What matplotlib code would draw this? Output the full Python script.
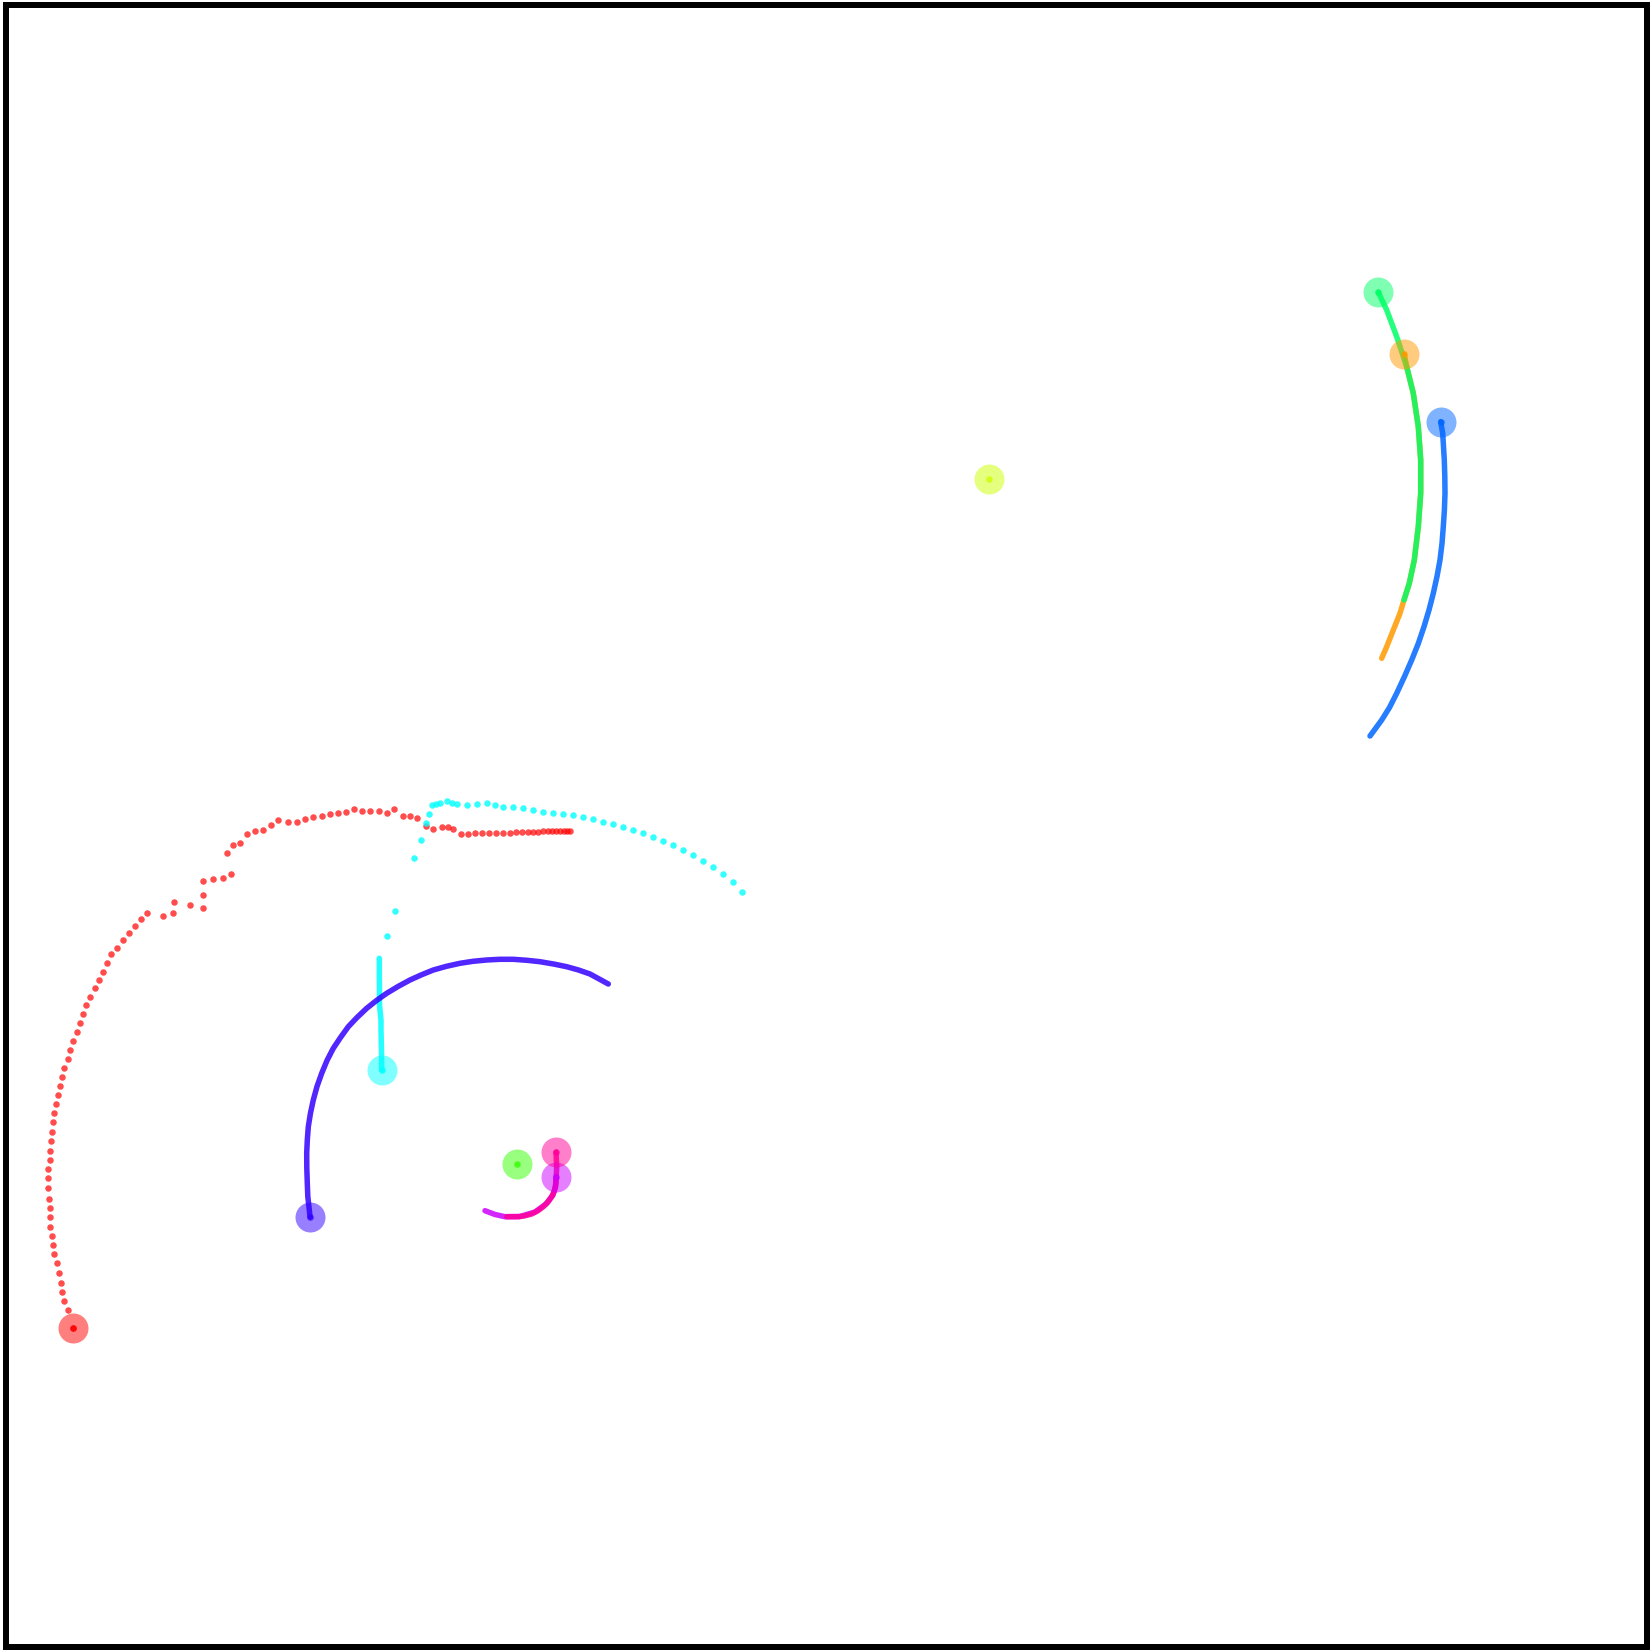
import numpy as np
import matplotlib
matplotlib.use("Agg")
import matplotlib.pyplot as plt
from matplotlib.colors import hsv_to_rgb

# Track positions (image pixel coordinates, y grows downward)
red_x = [72.7, 67.7, 64.3, 62.3, 60.7, 58.7, 56.7, 54.3, 53.3, 52.0, 50.3, 50.0, 50.0, 49.3,
         48.3, 48.3, 48.3, 50.0, 50.0, 50.7, 51.7, 53.3, 54.3, 56.3, 58.3, 60.0, 62.0, 64.3,
         67.7, 70.0, 73.3, 76.7, 80.0, 82.7, 86.0, 90.0, 95.0, 99.0, 103.3, 107.3, 110.7,
         117.3, 123.3, 129.0, 135.0, 140.7, 147.3, 163.3, 172.7, 174.3, 190.0, 203.3, 203.3,
         203.3, 212.7, 222.7, 230.7, 226.7, 232.7, 240.0, 246.7, 254.7, 262.7, 270.7, 278.0,
         288.3, 296.7, 305.0, 313.3, 321.7, 330.0, 338.3, 346.0, 354.0, 362.0, 370.0, 378.7,
         386.7, 394.0, 402.7, 410.0, 417.3, 425.5, 433.3, 441.7, 448.3, 453.3, 461.0, 468.0,
         475.0, 482.0, 489.0, 496.0, 503.0, 510.0, 516.0, 522.0, 528.0, 533.0, 538.0, 543.0,
         548.0, 552.0, 556.0, 560.0, 564.0, 567.0, 570.0]
red_y = [1328.0, 1310.0, 1300.7, 1291.7, 1282.7, 1273.3, 1263.3, 1254.0, 1244.7, 1235.7,
         1226.7, 1217.3, 1208.3, 1198.7, 1188.3, 1178.3, 1169.0, 1160.0, 1150.7, 1141.0,
         1131.7, 1122.3, 1113.3, 1104.0, 1095.0, 1086.0, 1076.7, 1067.7, 1058.7, 1049.7,
         1040.7, 1032.0, 1023.3, 1014.3, 1005.0, 997.0, 988.3, 980.0, 971.7, 963.3, 954.3,
         947.7, 940.0, 933.3, 926.0, 918.7, 912.7, 916.0, 912.7, 902.0, 905.3, 908.3, 894.5,
         880.7, 879.0, 877.8, 874.3, 853.3, 845.0, 842.7, 834.0, 831.3, 830.0, 825.3, 820.0,
         822.3, 822.3, 819.0, 817.3, 815.7, 814.0, 813.3, 811.7, 809.3, 810.7, 810.7, 811.3,
         812.7, 809.3, 815.5, 815.5, 818.3, 825.5, 828.8, 826.7, 826.7, 829.3, 834.0, 833.5,
         833.0, 833.0, 833.0, 833.0, 832.5, 832.5, 832.0, 832.0, 832.0, 831.5, 831.5, 831.0,
         831.0, 830.5, 830.5, 830.5, 830.5, 830.5, 831.0]

cyan_line_x = [381.7, 381.5, 381.0, 381.0, 379.5, 379.5, 379.3, 379.3]
cyan_line_y = [1070.0, 1050.0, 1030.0, 1020.0, 1005.0, 990.0, 975.0, 958.3]
cyan_dot_x = [387.3, 395.0, 414.3, 420.8, 426.2, 428.8, 431.7, 436.0, 440.0, 446.7, 451.5,
              456.7, 466.7, 476.7, 486.7, 495.0, 503.3, 513.3, 523.3, 533.3, 543.3, 553.3,
              563.3, 573.3, 583.3, 593.3, 603.3, 613.3, 623.3, 633.3, 643.3, 653.3, 663.3,
              673.3, 683.3, 693.3, 703.3, 713.3, 723.3, 733.3, 741.7]
cyan_dot_y = [935.7, 911.0, 857.7, 840.0, 823.3, 814.2, 805.0, 803.5, 802.7, 801.0, 802.5,
              804.0, 805.0, 804.0, 803.3, 805.0, 807.3, 807.3, 808.3, 810.0, 811.7, 812.7,
              814.0, 815.0, 816.7, 819.0, 821.7, 824.0, 826.7, 830.0, 833.3, 836.7, 840.7,
              845.0, 850.0, 855.0, 861.0, 867.3, 874.0, 881.7, 891.7]

orange_x = [1404.3, 1406.7, 1413.3, 1418.3, 1420.7, 1420.7, 1418.3, 1414.3, 1409.3, 1404.0,
            1400.0, 1393.3, 1386.7, 1381.7]
orange_y = [354.3, 366.7, 393.3, 426.7, 460.0, 493.3, 526.7, 560.0, 583.3, 600.0,
            613.3, 630.0, 646.7, 658.3]

lime_x = [989.3]
lime_y = [479.3]

green_x = [517.3]
green_y = [1164.3]

spring_x = [1378.3, 1386.7, 1396.7, 1406.7, 1413.3, 1418.3, 1420.7, 1420.7, 1418.3, 1414.3,
            1409.3, 1404.0]
spring_y = [292.3, 310.0, 336.7, 366.7, 393.3, 426.7, 460.0, 493.3, 526.7, 560.0,
            583.3, 600.0]

azure_x = [1440.7, 1442.7, 1444.3, 1444.8, 1445.0, 1444.4, 1443.3, 1442.0, 1440.0, 1437.0,
           1433.3, 1429.0, 1424.0, 1418.3, 1411.7, 1404.5, 1396.7, 1389.5, 1381.7, 1370.0]
azure_y = [421.7, 433.3, 460.0, 476.5, 493.3, 510.0, 526.7, 543.5, 560.0, 576.5,
           593.3, 610.0, 626.7, 643.5, 660.0, 676.5, 693.3, 707.5, 720.0, 736.0]

violet_x = [310.0, 309.3, 307.8, 307.3, 306.8, 306.7, 307.3, 308.3, 310.5, 313.3, 317.0,
            321.7, 327.0, 333.3, 340.5, 348.3, 357.0, 366.7, 376.5, 386.7, 398.0, 410.0,
            421.5, 433.3, 446.5, 460.0, 473.0, 486.7, 500.0, 513.3, 527.0, 540.0, 553.5,
            566.7, 578.5, 590.0, 608.3]
violet_y = [1216.7, 1210.0, 1196.5, 1183.3, 1168.0, 1153.3, 1140.0, 1126.7, 1113.0, 1100.0,
            1086.5, 1073.3, 1060.5, 1048.3, 1037.5, 1026.7, 1017.5, 1008.3, 1000.5, 993.3,
            986.5, 980.0, 974.8, 970.0, 966.3, 963.3, 961.3, 960.0, 959.3, 959.3, 960.3,
            961.7, 964.0, 966.7, 970.0, 974.0, 984.0]

purple_x = [556.0, 555.5, 553.0, 546.0, 535.0, 520.0, 505.0, 495.0, 485.0]
purple_y = [1176.7, 1186.7, 1195.0, 1204.0, 1212.0, 1216.5, 1216.7, 1214.5, 1210.7]

pink_x = [556.0, 556.7, 556.0, 554.5, 551.7, 548.0, 543.3, 538.0, 531.7, 525.0, 518.3, 506.7]
pink_y = [1152.3, 1166.7, 1183.3, 1190.5, 1196.7, 1202.0, 1206.7, 1210.7, 1214.0, 1215.8,
          1216.7, 1216.7]

# hue index of each track (10 evenly spaced hues)
colors = [hsv_to_rgb((i / 10.0, 1.0, 1.0)) for i in range(10)]

W, H = 1651, 1650
fig = plt.figure(figsize=(W / 100, H / 100), dpi=100)
fig.patch.set_facecolor("white")
ax = fig.add_axes([5.5 / W, 3.0 / H, (1646.5 - 5.5) / W, (1647.0 - 5.0) / H])
ax.set_xlim(5.5, 1646.5)
ax.set_ylim(1647.0, 5.0)
ax.set_xticks([])
ax.set_yticks([])
for s in ax.spines.values():
    s.set_linewidth(6 * 0.72)
    s.set_color("black")

lw = 5.5 * 0.72
dot_s = (6.5 * 0.72) ** 2

# continuous tracks
line_tracks = [
    (orange_x, orange_y, colors[1]),
    (spring_x, spring_y, colors[4]),
    (cyan_line_x, cyan_line_y, colors[5]),
    (azure_x, azure_y, colors[6]),
    (violet_x, violet_y, colors[7]),
    (purple_x, purple_y, colors[8]),
    (pink_x, pink_y, colors[9]),
]
for x, y, c in line_tracks:
    ax.plot(x, y, "-", color=c, lw=lw, alpha=0.85, solid_capstyle="round",
            solid_joinstyle="round", zorder=2)

# sparse, dotted tracks
ax.scatter(red_x, red_y, s=dot_s, color=colors[0], alpha=0.7, lw=0, zorder=2)
ax.scatter(cyan_dot_x, cyan_dot_y, s=dot_s, color=colors[5], alpha=0.8, lw=0, zorder=2)

# start markers
starts = [
    (red_x[0], red_y[0], colors[0]),
    (orange_x[0], orange_y[0], colors[1]),
    (lime_x[0], lime_y[0], colors[2]),
    (green_x[0], green_y[0], colors[3]),
    (spring_x[0], spring_y[0], colors[4]),
    (cyan_line_x[0], cyan_line_y[0], colors[5]),
    (azure_x[0], azure_y[0], colors[6]),
    (violet_x[0], violet_y[0], colors[7]),
    (purple_x[0], purple_y[0], colors[8]),
    (pink_x[0], pink_y[0], colors[9]),
]
for x, y, c in starts:
    ax.scatter([x], [y], s=(30 * 0.72) ** 2, color=c, alpha=0.5, lw=0, zorder=3)
    ax.scatter([x], [y], s=dot_s, color=c, alpha=0.8, lw=0, zorder=3)

fig.savefig("out.png", dpi=100, facecolor="white")
